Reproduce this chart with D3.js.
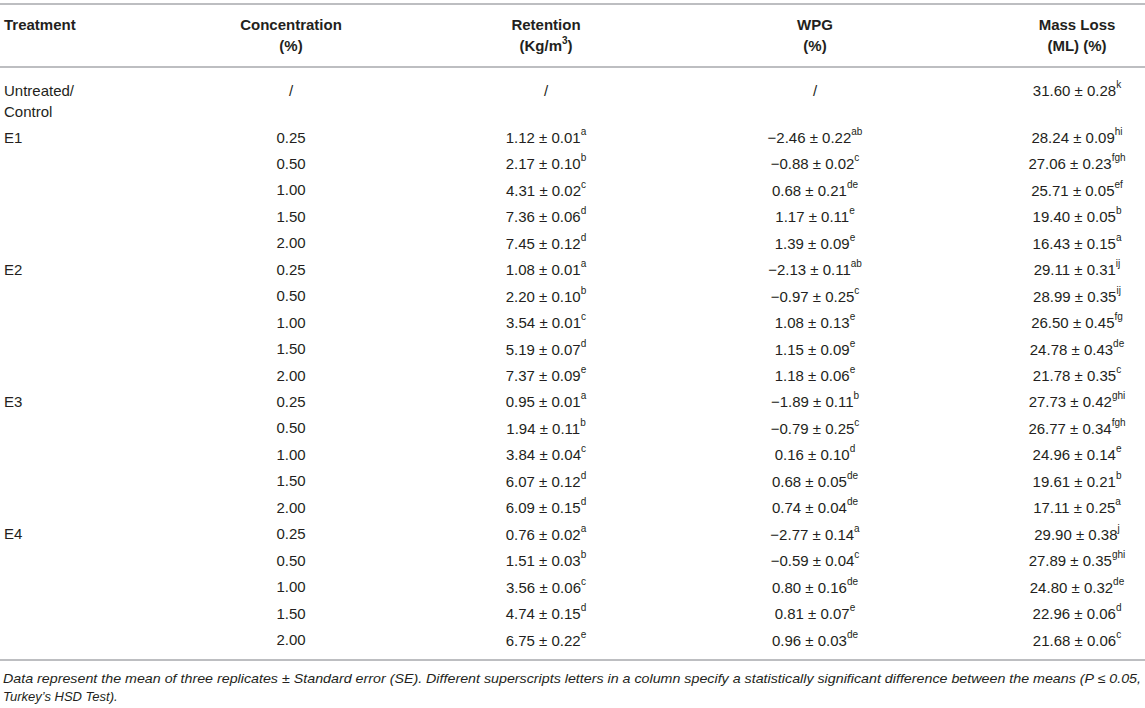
<!DOCTYPE html>
<html>
<head>
<meta charset="utf-8">
<script src="https://cdn.jsdelivr.net/npm/d3@7"></script>
<style>
    body { margin: 0; background: #fff; }
    svg { display: block; font-family: "Liberation Sans", Arial, Helvetica, sans-serif; }
</style>
</head>
<body>
<div id="chart"></div>
<script>
// Treatment table: retention, WPG and mass loss per extract and concentration

const treatments = ['E1', 'E2', 'E3', 'E4'];
const concentrations = ['0.25', '0.50', '1.00', '1.50', '2.00'];

// Retention (Kg/m3), one row per treatment x concentration
const retentionMean = [1.12, 2.17, 4.31, 7.36, 7.45, 1.08, 2.20, 3.54, 5.19, 7.37, 0.95, 1.94, 3.84, 6.07, 6.09, 0.76, 1.51, 3.56, 4.74, 6.75];
const retentionSE = [0.01, 0.10, 0.02, 0.06, 0.12, 0.01, 0.10, 0.01, 0.07, 0.09, 0.01, 0.11, 0.04, 0.12, 0.15, 0.02, 0.03, 0.06, 0.15, 0.22];
const retentionSig = ['a', 'b', 'c', 'd', 'd', 'a', 'b', 'c', 'd', 'e', 'a', 'b', 'c', 'd', 'd', 'a', 'b', 'c', 'd', 'e'];

// Weight percent gain (%)
const wpgMean = [-2.46, -0.88, 0.68, 1.17, 1.39, -2.13, -0.97, 1.08, 1.15, 1.18, -1.89, -0.79, 0.16, 0.68, 0.74, -2.77, -0.59, 0.80, 0.81, 0.96];
const wpgSE = [0.22, 0.02, 0.21, 0.11, 0.09, 0.11, 0.25, 0.13, 0.09, 0.06, 0.11, 0.25, 0.10, 0.05, 0.04, 0.14, 0.04, 0.16, 0.07, 0.03];
const wpgSig = ['ab', 'c', 'de', 'e', 'e', 'ab', 'c', 'e', 'e', 'e', 'b', 'c', 'd', 'de', 'de', 'a', 'c', 'de', 'e', 'de'];

// Mass loss (%)
const massLossMean = [28.24, 27.06, 25.71, 19.40, 16.43, 29.11, 28.99, 26.50, 24.78, 21.78, 27.73, 26.77, 24.96, 19.61, 17.11, 29.90, 27.89, 24.80, 22.96, 21.68];
const massLossSE = [0.09, 0.23, 0.05, 0.05, 0.15, 0.31, 0.35, 0.45, 0.43, 0.35, 0.42, 0.34, 0.14, 0.21, 0.25, 0.38, 0.35, 0.32, 0.06, 0.06];
const massLossSig = ['hi', 'fgh', 'ef', 'b', 'a', 'ij', 'ij', 'fg', 'de', 'c', 'ghi', 'fgh', 'e', 'b', 'a', 'j', 'ghi', 'de', 'd', 'c'];

// Untreated control
const controlMassLoss = { mean: 31.60, se: 0.28, sig: 'k' };

const headers = [
    { key: 'treatment', lines: [['Treatment']] },
    { key: 'conc', lines: [['Concentration'], ['(%)']] },
    { key: 'ret', lines: [['Retention'], ['(Kg/m', '3', ')']] },
    { key: 'wpg', lines: [['WPG'], ['(%)']] },
    { key: 'ml', lines: [['Mass Loss'], ['(ML) (%)']] }
];

const footnote = [
    'Data represent the mean of three replicates \u00b1 Standard error (SE). Different superscripts letters in a column specify a statistically significant difference between the means (P \u2264 0.05,',
    'Turkey\u2019s HSD Test).'
];

const W = 1145, H = 708;
const textColor = '#231f20';
const ruleColor = '#a7a9ac';

const svg = d3.select('#chart').append('svg')
    .attr('width', W)
    .attr('height', H);

// Column positions
const colX = d3.scaleOrdinal()
    .domain(['treatment', 'conc', 'ret', 'wpg', 'ml'])
    .range([4, 291, 546, 815, 1077]);

// Row positions (text centre)
const rowY = d3.scaleLinear()
    .domain([0, treatments.length * concentrations.length - 1])
    .range([137, 639.5]);

const fmt = d3.format('.2f');
const num = v => (v < 0 ? '\u2212' : '') + fmt(Math.abs(v));

// Horizontal rules
[4, 67, 660].forEach(y => {
    svg.append('line')
        .attr('x1', 0).attr('x2', W)
        .attr('y1', y).attr('y2', y)
        .attr('stroke', ruleColor)
        .attr('stroke-width', 1.6);
});

// Header
headers.forEach(h => {
    h.lines.forEach((parts, li) => {
        const t = svg.append('text')
            .attr('x', colX(h.key))
            .attr('y', 24 + li * 21)
            .attr('dominant-baseline', 'central')
            .attr('text-anchor', h.key === 'treatment' ? 'start' : 'middle')
            .style('font-size', '15px')
            .style('font-weight', 'bold')
            .style('fill', textColor);
        parts.forEach((p, pi) => {
            const ts = t.append('tspan').text(p);
            if (pi === 1) ts.attr('dy', -5).style('font-size', '10px');
            if (pi === 2) ts.attr('dy', 5);
        });
    });
});

// Cell with mean ± SE and significance superscript
const valueCell = (x, y, mean, se, sig) => {
    const t = svg.append('text')
        .attr('x', x)
        .attr('y', y)
        .attr('dominant-baseline', 'central')
        .attr('text-anchor', 'middle')
        .style('font-size', '15px')
        .style('fill', textColor);
    t.append('tspan').text(`${num(mean)} \u00b1 ${fmt(se)}`);
    t.append('tspan')
        .attr('dy', -6)
        .style('font-size', '10px')
        .text(sig);
};

const plainCell = (x, y, str, anchor) => {
    svg.append('text')
        .attr('x', x)
        .attr('y', y)
        .attr('dominant-baseline', 'central')
        .attr('text-anchor', anchor || 'middle')
        .style('font-size', '15px')
        .style('fill', textColor)
        .text(str);
};

// Control row
plainCell(colX('treatment'), 90, 'Untreated/', 'start');
plainCell(colX('treatment'), 111, 'Control', 'start');
plainCell(colX('conc'), 90, '/');
plainCell(colX('ret'), 90, '/');
plainCell(colX('wpg'), 90, '/');
valueCell(colX('ml'), 90, controlMassLoss.mean, controlMassLoss.se, controlMassLoss.sig);

// Treatment rows
treatments.forEach((tr, ti) => {
    plainCell(colX('treatment'), rowY(ti * concentrations.length), tr, 'start');
    concentrations.forEach((c, ci) => {
        const i = ti * concentrations.length + ci;
        const y = rowY(i);
        plainCell(colX('conc'), y, c);
        valueCell(colX('ret'), y, retentionMean[i], retentionSE[i], retentionSig[i]);
        valueCell(colX('wpg'), y, wpgMean[i], wpgSE[i], wpgSig[i]);
        valueCell(colX('ml'), y, massLossMean[i], massLossSE[i], massLossSig[i]);
    });
});

// Footnote
footnote.forEach((line, li) => {
    svg.append('text')
        .attr('x', 3)
        .attr('y', 678 + li * 18)
        .attr('dominant-baseline', 'central')
        .style('font-size', '13px')
        .style('font-style', 'italic')
        .style('fill', textColor)
        .attr('textLength', li === 0 ? 1138 : null)
        .attr('lengthAdjust', 'spacingAndGlyphs')
        .text(line);
});
</script>
</body>
</html>
